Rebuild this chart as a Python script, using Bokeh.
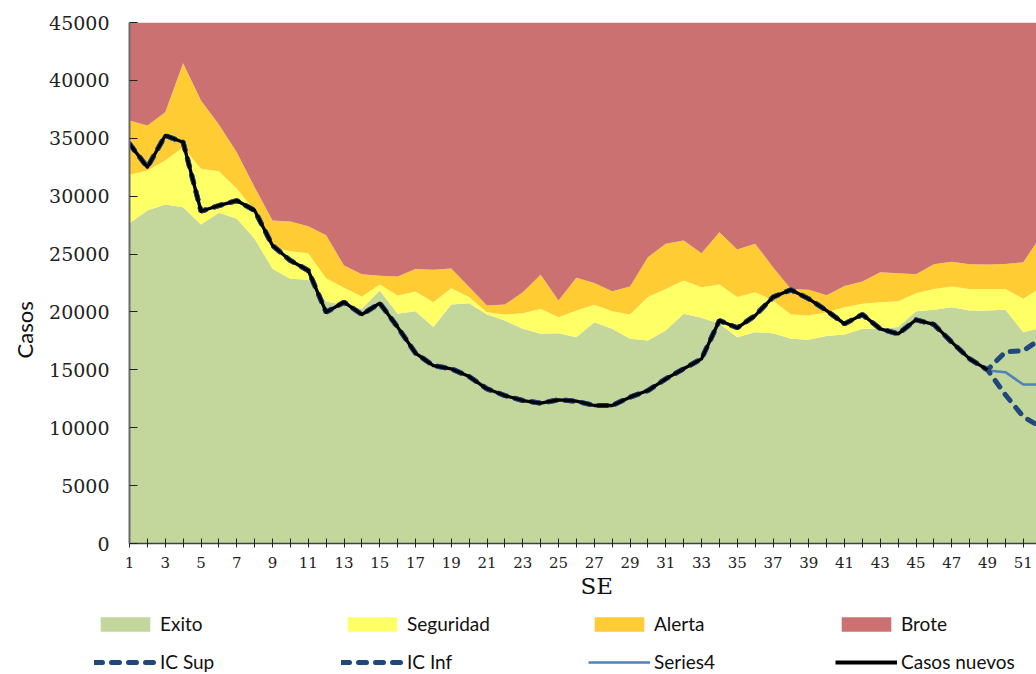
from bokeh.plotting import figure
from bokeh.models import Range1d, FixedTicker, Legend, LegendItem, Title
from bokeh.embed import file_html
from bokeh.resources import INLINE

# ---------------- data ----------------
weeks = list(range(1, 53))
y_max = 45000

# cumulative upper limits of each zone
exito = [27670, 28760, 29280, 29050, 27550, 28560, 28050, 26320, 23730, 22860,
         22780, 20900, 20600, 20270, 21850, 19840, 20070, 18690, 20640, 20760,
         19780, 19260, 18540, 18110, 18170, 17820, 19100, 18540, 17680, 17530,
         18400, 19840, 19490, 18980, 17820, 18250, 18170, 17680, 17590, 17920,
         18050, 18540, 18540, 18690, 20070, 20180, 20410, 20120, 20120, 20180,
         18250, 18640]
seguridad = [31840, 32220, 33080, 34230, 32360, 32160, 30660, 28760, 25590, 25250,
             25070, 22900, 22100, 21330, 22370, 21420, 21770, 20840, 22050, 21280,
             19980, 19780, 19890, 20270, 19550, 20120, 20630, 20070, 19780, 21280,
             21990, 22720, 22140, 22370, 21280, 21710, 20990, 19780, 19690, 19980,
             20410, 20700, 20840, 20930, 21620, 21990, 22200, 21990, 21990, 21990,
             21130, 22100]
alerta = [36535, 36100, 37250, 41480, 38260, 36190, 33800, 30770, 27900, 27810,
          27400, 26630, 24010, 23260, 23130, 23070, 23720, 23640, 23760, 22150,
          20560, 20640, 21710, 23210, 20990, 22950, 22500, 21790, 22200, 24730,
          25890, 26170, 25070, 26890, 25400, 25900, 23870, 21990, 21910, 21450,
          22240, 22640, 23430, 23350, 23260, 24130, 24330, 24120, 24100, 24140,
          24300, 26600]

casos_weeks = list(range(1, 50))
casos_nuevos = [34520, 32500, 35240, 34660, 28700, 29190, 29620, 28760, 25740, 24440,
                23580, 19980, 20840, 19780, 20760, 18690, 16440, 15370, 15090, 14420,
                13360, 12780, 12350, 12120, 12410, 12290, 11920, 11920, 12640, 13210,
                14220, 15090, 15950, 19260, 18630, 19690, 21280, 21910, 21130, 20120,
                18970, 19780, 18540, 18110, 19320, 18920, 17390, 15950, 15000]

ic_sup = casos_nuevos + [16550, 16650, 17700]
ic_inf = casos_nuevos + [12850, 10950, 10050]
series4_weeks = [49, 50, 51, 52]
series4 = [14940, 14800, 13730, 13730]

y_ticks = [0, 5000, 10000, 15000, 20000, 25000, 30000, 35000, 40000, 45000]
x_label_ticks = list(range(1, 52, 2))
x_minor_ticks = list(range(2, 53, 2))

# ---------------- styles ----------------
C_EXITO, C_SEG, C_ALERTA, C_BROTE = "#C3D69B", "#FFFF66", "#FFCC33", "#CC7171"
C_IC, C_S4 = "#1F497D", "#4F81BD"
IC_STYLE = dict(line_color=C_IC, line_width=5, line_dash="8 9", line_cap="round")
S4_STYLE = dict(line_color=C_S4, line_width=2.5)
CASOS_STYLE = dict(line_color="black", line_width=3.3, line_join="round")

# ---------------- main figure ----------------
p = figure(width=1036, height=606, output_backend="svg", toolbar_location=None,
           x_range=Range1d(1, 51.74), y_range=Range1d(0, y_max),
           min_border_left=129, min_border_right=0, min_border_top=22,
           min_border_bottom=63)
p.xgrid.visible = False
p.ygrid.visible = False
p.outline_line_color = None

p.varea(x=weeks, y1=0, y2=exito, fill_color=C_EXITO)
p.varea(x=weeks, y1=exito, y2=seguridad, fill_color=C_SEG)
p.varea(x=weeks, y1=seguridad, y2=alerta, fill_color=C_ALERTA)
p.varea(x=weeks, y1=alerta, y2=y_max, fill_color=C_BROTE)

p.line(series4_weeks, series4, **S4_STYLE)
p.line(weeks, ic_sup, **IC_STYLE)
p.line(weeks, ic_inf, **IC_STYLE)
p.line(casos_weeks, casos_nuevos, **CASOS_STYLE)

xa = p.xaxis[0]
xa.ticker = FixedTicker(ticks=x_label_ticks, minor_ticks=x_minor_ticks)
xa.axis_line_color = "#404040"
xa.axis_line_width = 1.5
xa.major_tick_line_color = "#222222"
xa.minor_tick_line_color = "#222222"
xa.major_tick_in = 5
xa.major_tick_out = 4
xa.minor_tick_in = 5
xa.minor_tick_out = 4
xa.major_label_standoff = 9
xa.major_label_text_font = "DejaVu Serif"
xa.major_label_text_font_size = "15px"
xa.major_label_text_color = "#222222"

ya = p.yaxis[0]
ya.ticker = FixedTicker(ticks=y_ticks)
ya.axis_line_color = "#6b6b6b"
ya.axis_line_width = 2
ya.major_tick_line_color = "#222222"
ya.major_tick_in = 8
ya.major_tick_out = 0
ya.minor_tick_line_color = None
ya.major_label_standoff = 20
ya.major_label_text_font = "DejaVu Serif"
ya.major_label_text_font_size = "19px"
ya.major_label_text_color = "#222222"

se_title = Title(text="SE", align="left", offset=451, vertical_align="top",
                 text_font="DejaVu Serif", text_font_size="23px",
                 text_font_style="normal", text_color="#111111", standoff=4)
p.add_layout(se_title, "below")
casos_title = Title(text="Casos", align="left", offset=185, vertical_align="top",
                    text_font="Lato", text_font_size="22px",
                    text_font_style="normal", text_color="#111111", standoff=14)
p.add_layout(casos_title, "left")

# ---------------- legend strip ----------------
q = figure(width=1036, height=68, output_backend="svg", toolbar_location=None,
           x_range=Range1d(0, 1), y_range=Range1d(0, 1),
           x_axis_type=None, y_axis_type=None, min_border=0)
q.outline_line_color = None
nan = [float("nan")]
l_exito = q.varea(x=nan, y1=nan, y2=nan, fill_color=C_EXITO)
l_seg = q.varea(x=nan, y1=nan, y2=nan, fill_color=C_SEG)
l_alerta = q.varea(x=nan, y1=nan, y2=nan, fill_color=C_ALERTA)
l_brote = q.varea(x=nan, y1=nan, y2=nan, fill_color=C_BROTE)
l_sup = q.line(x=nan, y=nan, **IC_STYLE)
l_inf = q.line(x=nan, y=nan, **IC_STYLE)
l_s4 = q.line(x=nan, y=nan, **S4_STYLE)
l_casos = q.line(x=nan, y=nan, line_color="black", line_width=4)


def make_legend(items, vy):
    lg = Legend(items=items, orientation="horizontal", location=(94, vy))
    lg.glyph_width = 62
    lg.glyph_height = 18
    lg.label_height = 18
    lg.label_width = 167
    lg.label_standoff = 4
    lg.spacing = 14
    lg.padding = 0
    lg.margin = 0
    lg.border_line_color = None
    lg.background_fill_alpha = 0
    lg.label_text_font = "Lato"
    lg.label_text_font_size = "19px"
    lg.label_text_color = "#111111"
    return lg


q.add_layout(make_legend([
    LegendItem(label="Exito", renderers=[l_exito]),
    LegendItem(label="Seguridad", renderers=[l_seg]),
    LegendItem(label="Alerta", renderers=[l_alerta]),
    LegendItem(label="Brote", renderers=[l_brote]),
], 39), "center")
q.add_layout(make_legend([
    LegendItem(label="IC Sup", renderers=[l_sup]),
    LegendItem(label="IC Inf", renderers=[l_inf]),
    LegendItem(label="Series4", renderers=[l_s4]),
    LegendItem(label="Casos nuevos", renderers=[l_casos]),
], 1), "center")

open("out.html", "w").write(file_html([p, q], INLINE))
